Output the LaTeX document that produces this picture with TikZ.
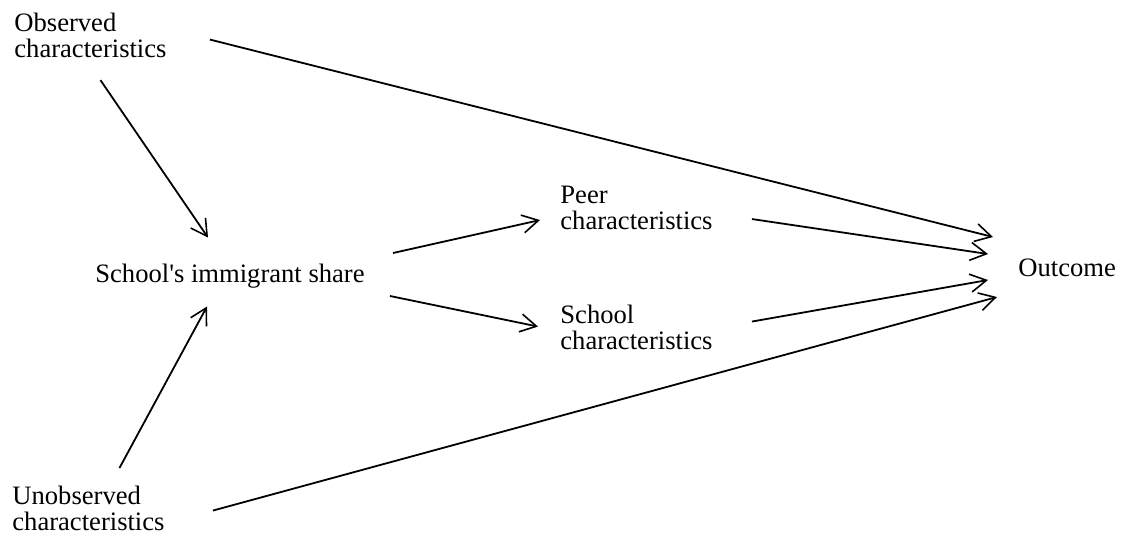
\documentclass[tikz,border=0pt]{standalone}
\usepackage{fontspec}
\setmainfont{Liberation Serif}
\usetikzlibrary{arrows.meta,calc}
\begin{document}
\begin{tikzpicture}[x=0.5pt,y=-0.5pt,
  lbl/.style={inner sep=0pt,align=left,font=\fontsize{13.3pt}{12.8pt}\selectfont},
  arr/.style={line width=0.9pt,-{Straight Barb[length=8pt,width=9pt,line width=0.8pt]}}]
\useasboundingbox (0,0) rectangle (1124,537);
\node[lbl,anchor=north west] (obs) at (14,13) {Observed\\characteristics};
\node[lbl,anchor=north west] (unobs) at (12,486) {Unobserved\\characteristics};
\node[lbl] (share) at (230,276) {School\textquotesingle s immigrant share};
\node[lbl,anchor=north west] (peer) at (560,186) {Peer\\characteristics};
\node[lbl,anchor=north west] (school) at (560,305) {School\\characteristics};
\node[lbl,anchor=west] (out) at (1018,268) {Outcome};
%\draw[help lines] (0,0) grid[step=50] (1124,537);
\draw[arr] ($(obs.east)+(43,4)$) -- ($(out.west)+(-25,-31)$);
\draw[arr] ($(obs.south)+(10,22)$) -- ($(share.north)+(-22,-26)$);
\draw[arr] ($(unobs.north)+(31,-18)$) -- ($(share.south)+(-23,18)$);
\draw[arr] ($(unobs.east)+(48,2)$) -- ($(out.west)+(-21,29)$);
\draw[arr] ($(share.east)+(28,-23)$) -- ($(peer.west)+(-20,12)$);
\draw[arr] ($(share.east)+(25,20)$) -- ($(school.west)+(-22,-1)$);
\draw[arr] ($(peer.east)+(39,11)$) -- ($(out.west)+(-30,-14)$);
\draw[arr] ($(school.east)+(39,-6)$) -- ($(out.west)+(-30,12)$);
\end{tikzpicture}
\end{document}
